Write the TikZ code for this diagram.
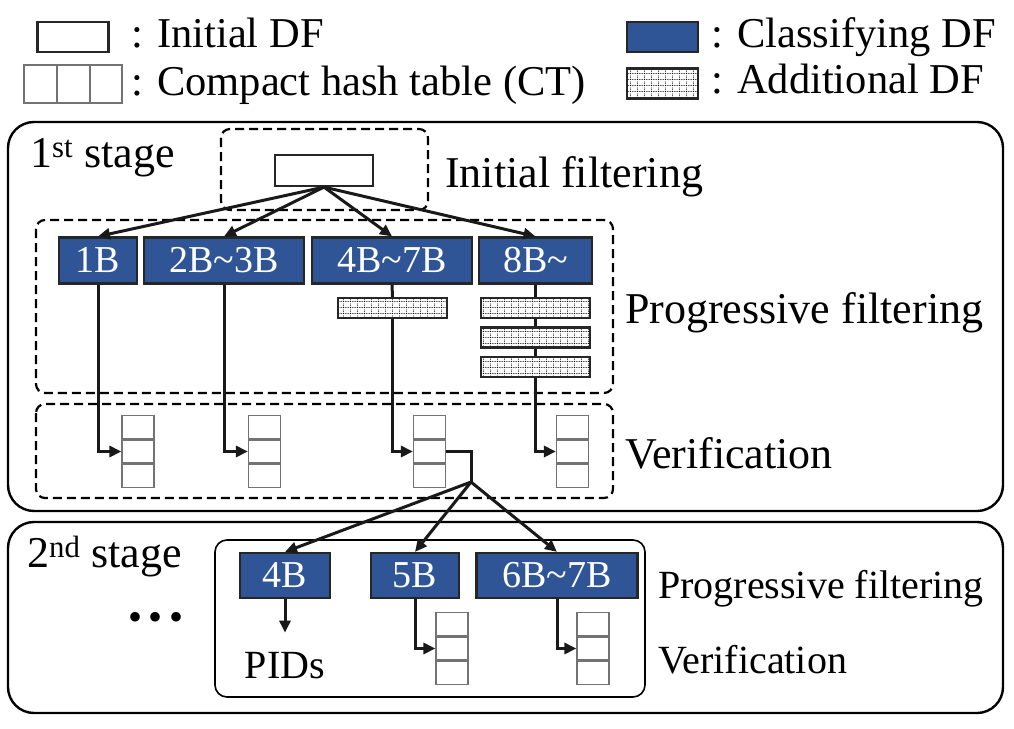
\documentclass[tikz,border=0pt]{standalone}
\usepackage{fontspec}
\setmainfont{Liberation Serif}
\usetikzlibrary{arrows.meta,patterns,positioning}
\definecolor{dfblue}{RGB}{47,85,151}
\pgfdeclarepatternformonly{dfdots}{\pgfqpoint{0pt}{0pt}}{\pgfqpoint{7pt}{6pt}}{\pgfqpoint{7pt}{6pt}}{%
  \pgfsetlinewidth{0.8pt}%
  \pgfsetdash{{1pt}{1pt}}{0pt}%
  \pgfpathmoveto{\pgfqpoint{0pt}{0.5pt}}\pgfpathlineto{\pgfqpoint{7pt}{0.5pt}}%
  \pgfpathmoveto{\pgfqpoint{0.5pt}{0pt}}\pgfpathlineto{\pgfqpoint{0.5pt}{6pt}}%
  \pgfusepath{stroke}}

\begin{document}
\begin{tikzpicture}[x=1pt,y=-1pt]
  \tikzstyle{every node}+=[inner sep=0pt]
  \tikzstyle{txt}=[font=\fontsize{44}{50}\selectfont, anchor=base west]
  \tikzstyle{legtxt}=[font=\fontsize{42.5}{48}\selectfont, anchor=base west]
  \tikzstyle{smalltxt}=[font=\fontsize{40}{46}\selectfont, anchor=base west]
  \tikzstyle{initdf}=[draw=black!85, line width=2.2pt, fill=white, minimum width=98pt, minimum height=31pt]
  \tikzstyle{clsdf}=[draw=black!85, line width=2.2pt, fill=dfblue, text=white, font=\fontsize{38}{44}\selectfont, minimum height=46pt]
  \tikzstyle{adddf}=[draw=black!85, line width=2.2pt, preaction={fill=white}, pattern=dfdots, minimum width=109pt, minimum height=20pt]
  \tikzstyle{cell}=[draw=black!55, line width=1.2pt, fill=white, minimum width=32pt, minimum height=23pt]
  \tikzstyle{grp}=[line width=2.2pt, rounded corners=9pt, dash pattern=on 9pt off 5pt]
  \tikzstyle{stagebox}=[line width=2.4pt, rounded corners=26pt]
  \tikzstyle{conn}=[line width=3pt, black!90]
  \tikzstyle{arr}=[conn, -{Triangle[length=12pt,width=11pt]}]
  \useasboundingbox (0,0) rectangle (1014,728);

  % legend
  \node[initdf, minimum width=71pt, minimum height=30pt] (legini) at (73,37) {};
  \node[legtxt] (legini-t) at (131,47) {: Initial DF};
  \node[cell, minimum width=33pt, minimum height=38pt] (legct-1) at (40.5,84) {};
  \node[cell, minimum width=33pt, minimum height=38pt] (legct-2) at (73.5,84) {};
  \node[cell, minimum width=32pt, minimum height=38pt] (legct-3) at (106,84) {};
  \node[legtxt] (legct-t) at (131,95) {: Compact hash table (CT)};
  \node[clsdf, minimum width=71pt, minimum height=30pt] (legcls) at (662.5,37) {};
  \node[legtxt] (legcls-t) at (711,47) {: Classifying DF};
  \node[adddf, minimum width=71pt, minimum height=30pt] (legadd) at (662.5,83.5) {};
  \node[legtxt] (legadd-t) at (711,93) {: Additional DF};

  % 1st stage
  \draw[stagebox] (8,122) rectangle (1003,511);
  \node[txt] (stage1) at (30,167) {1\textsuperscript{st} stage};
  \draw[grp] (221,129) rectangle (428,210);
  \draw[grp] (36,220) rectangle (613,393);
  \draw[grp] (36,404) rectangle (613,498);
  \node[txt] (lab-ini) at (445,187) {Initial filtering};
  \node[txt] (lab-prog1) at (625,323) {Progressive filtering};
  \node[txt] (lab-ver1) at (625,468) {Verification};

  \node[initdf] (ini) at (324,170.5) {};
  \node[clsdf, minimum width=78pt] (b1) at (98,260.5) {1B};
  \node[clsdf, minimum width=160pt] (b23) at (224,260.5) {2B\textasciitilde3B};
  \node[clsdf, minimum width=160pt] (b47) at (392,260.5) {4B\textasciitilde7B};
  \node[clsdf, minimum width=113pt] (b8) at (535.5,260.5) {8B\textasciitilde};
  \node[adddf] (a1) at (392.5,308) {};
  \node[adddf] (a2) at (535.5,308) {};
  \node[adddf] (a3) at (535.5,337.5) {};
  \node[adddf] (a4) at (535.5,367) {};

  \foreach \t/\x/\y in {t1/138/451.5, t2/264.5/451.5, t3/429.5/451.5, t4/572.5/451.5, t5/452/648.5, t6/593/648.5} {
    \node[cell] (\t-2) at (\x,\y) {};
    \node[cell, anchor=south] (\t-1) at (\t-2.north) {};
    \node[cell, anchor=north] (\t-3) at (\t-2.south) {};
  }

  \draw[arr] (ini.south) -- (b1.north);
  \draw[arr] (ini.south) -- (b23.north);
  \draw[arr] (ini.south) -- (b47.north);
  \draw[arr] (ini.south) -- (b8.north);
  \draw[arr] (b1.south) |- (t1-2.west);
  \draw[arr] (b23.south) |- (t2-2.west);
  \draw[conn] (b47.south) -- (a1.north);
  \draw[arr] (a1.south) |- (t3-2.west);
  \draw[conn] (b8.south) -- (a2.north) (a2.south) -- (a3.north) (a3.south) -- (a4.north);
  \draw[arr] (a4.south) |- (t4-2.west);

  % 2nd stage
  \draw[stagebox] (8,522) rectangle (1003,713);
  \node[txt] (stage2) at (27,567) {2\textsuperscript{nd} stage};
  \node[smalltxt, anchor=base] (dots) at (156,630) {•\,•\,•};
  \draw[line width=1.6pt, rounded corners=12pt] (215,540) rectangle (645,697);
  \node[smalltxt] (lab-prog2) at (658,598) {Progressive filtering};
  \node[smalltxt] (lab-ver2) at (658,673) {Verification};

  \node[clsdf, minimum width=90pt, minimum height=45pt] (s4) at (285,575.5) {4B};
  \node[clsdf, minimum width=88pt, minimum height=45pt] (s5) at (415,575.5) {5B};
  \node[clsdf, minimum width=161pt, minimum height=45pt] (s67) at (557,575.5) {6B\textasciitilde7B};
  \node[smalltxt, anchor=base] (pids) at (285,678) {PIDs};

  \coordinate (split) at (471,482);
  \draw[conn] (t3-2.east) -| (split);
  \draw[arr] (split) -- (s4.north);
  \draw[arr] (split) -- (s5.north);
  \draw[arr] (split) -- (s67.north);
  \draw[arr, shorten >=19pt] (s4.south) -- (pids.north);
  \draw[arr] (s5.south) |- (t5-2.west);
  \draw[arr] (s67.south) |- (t6-2.west);
\end{tikzpicture}
\end{document}
